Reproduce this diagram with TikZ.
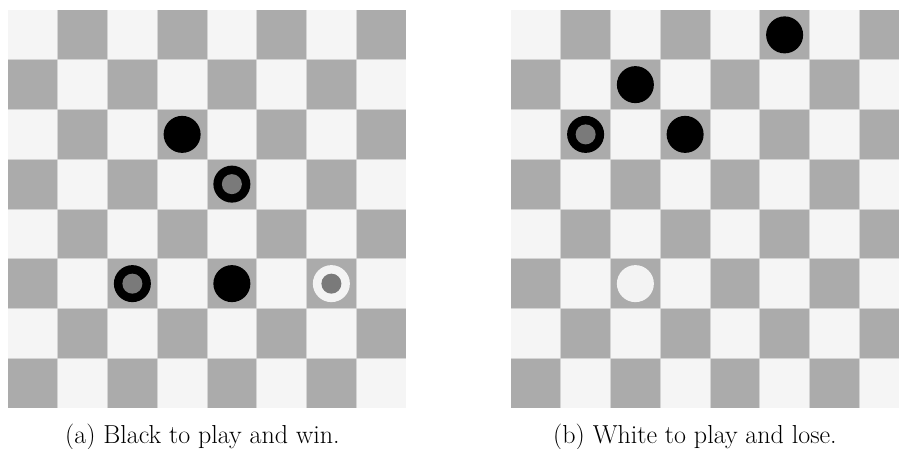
\documentclass[tikz,border=0pt]{standalone}
\definecolor{lightsq}{HTML}{F5F5F5}
\definecolor{darksq}{HTML}{ABABAB}
\definecolor{gridc}{HTML}{D4D4D4}
\definecolor{inner}{HTML}{7A7A7A}
\definecolor{whitepc}{HTML}{F3F3F3}
\begin{document}
\begin{tikzpicture}[x=1pt,y=-1pt,
  captext/.style={anchor=base west,font=\fontsize{26}{30}\selectfont,inner sep=0pt},
  blackpc/.style={fill=black},
  whitep/.style={fill=whitepc},
  centre/.style={fill=inner}]
\useasboundingbox (0,0) rectangle (899,448);
\clip (0,0) rectangle (899,448);
\fill[white] (0,0) rectangle (899,448);
\def\sq{49.75}
\foreach \bx in {8,511}{
  \fill[lightsq] (\bx,10) rectangle ({\bx+8*\sq},{10+8*\sq});
  \foreach \r in {0,...,7}{
    \foreach \c in {0,...,7}{
      \pgfmathtruncatemacro\p{mod(\r+\c,2)}
      \ifnum\p=1
        \fill[darksq] ({\bx+\c*\sq},{10+\r*\sq}) rectangle ({\bx+(\c+1)*\sq},{10+(\r+1)*\sq});
      \fi
    }
  }
  \foreach \i in {1,...,7}{
    \draw[gridc,line width=1pt] ({\bx+\i*\sq},10) -- ({\bx+\i*\sq},{10+8*\sq});
    \draw[gridc,line width=1pt] (\bx,{10+\i*\sq}) -- ({\bx+8*\sq},{10+\i*\sq});
  }
}
% board (a)
\fill[blackpc] ({8+3.5*\sq},{10+2.5*\sq}) circle (18.5);
\fill[blackpc] ({8+4.5*\sq},{10+3.5*\sq}) circle (18.5);
\fill[centre]  ({8+4.5*\sq},{10+3.5*\sq}) circle (10);
\fill[blackpc] ({8+2.5*\sq},{10+5.5*\sq}) circle (18.5);
\fill[centre]  ({8+2.5*\sq},{10+5.5*\sq}) circle (10);
\fill[blackpc] ({8+4.5*\sq},{10+5.5*\sq}) circle (18.5);
\fill[whitep]  ({8+6.5*\sq},{10+5.5*\sq}) circle (18.5);
\fill[centre]  ({8+6.5*\sq},{10+5.5*\sq}) circle (10);
% board (b)
\fill[blackpc] ({511+5.5*\sq},{10+0.5*\sq}) circle (18.5);
\fill[blackpc] ({511+2.5*\sq},{10+1.5*\sq}) circle (18.5);
\fill[blackpc] ({511+1.5*\sq},{10+2.5*\sq}) circle (18.5);
\fill[centre]  ({511+1.5*\sq},{10+2.5*\sq}) circle (10);
\fill[blackpc] ({511+3.5*\sq},{10+2.5*\sq}) circle (18.5);
\fill[whitep]  ({511+2.5*\sq},{10+5.5*\sq}) circle (18.5);
% captions
\node[captext] (capa) at (65,443) {(a) Black to play and win.};
\node[captext] (capb) at (553,443) {(b) White to play and lose.};
\end{tikzpicture}
\end{document}
